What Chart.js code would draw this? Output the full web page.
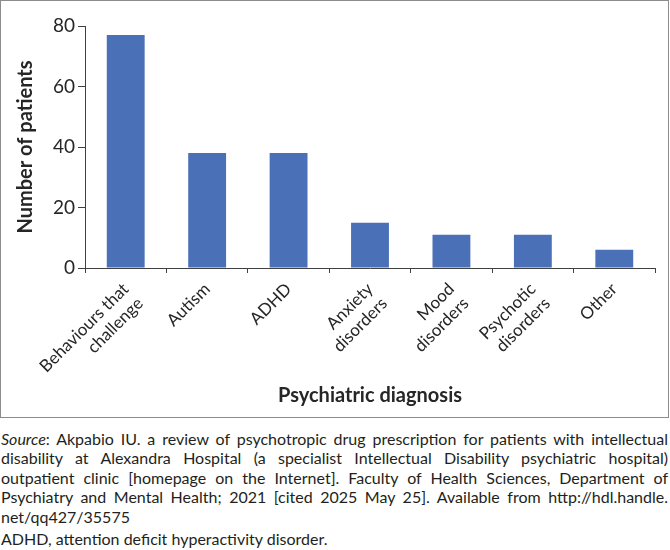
<!DOCTYPE html>
<html>
<head>
<meta charset="utf-8">
<script src="https://cdn.jsdelivr.net/npm/chart.js@4.4.1/dist/chart.umd.min.js"></script>
<style>
  body { margin: 0; background: #fff; font-family: Lato, sans-serif; color: #231f20; }
  #box { position: absolute; left: 0; top: 0; width: 667px; height: 416px; border: 1px solid #8c8c8c; }
  #chart { display: block; }
  #caption { position: absolute; left: 1px; top: 429px; width: 667px; font-size: 16px; line-height: 19.4px; }
  #caption .j { text-align: justify; text-align-last: justify; white-space: nowrap; }
  #caption .note { margin-top: 3px; }
</style>
</head>
<body>
<div id="box"><canvas id="chart" width="667" height="416"></canvas></div>
<div id="caption">
  <div class="j"><i>Source</i>: Akpabio IU. a review of psychotropic drug prescription for patients with intellectual</div>
  <div class="j">disability at Alexandra Hospital (a specialist Intellectual Disability psychiatric hospital)</div>
  <div class="j">outpatient clinic [homepage on the Internet]. Faculty of Health Sciences, Department of</div>
  <div class="j">Psychiatry and Mental Health; 2021 [cited 2025 May 25]. Available from http://hdl.handle.</div>
  <div>net/qq427/35575</div>
  <div class="note">ADHD, attention deficit hyperactivity disorder.</div>
</div>
<script>
// data
const diagnoses = [
  ['Behaviours that', 'challenge'],
  'Autism',
  'ADHD',
  ['Anxiety', 'disorders'],
  ['Mood', 'disorders'],
  ['Psychotic', 'disorders'],
  'Other'
];
const patientCounts = [77, 38, 38, 15, 11, 11, 6];
const yMin = 0;
const yMax = 80;
const yStep = 20;

const axisColor = '#404040';
const textColor = '#262626';

// squeeze a caption line a little if Lato runs wider than the original face
document.querySelectorAll('#caption .j').forEach((el) => {
  let ls = 0;
  while (el.scrollWidth > el.clientWidth && ls > -1) {
    ls -= 0.05;
    el.style.letterSpacing = ls + 'px';
  }
});

new Chart(document.getElementById('chart').getContext('2d'), {
  type: 'bar',
  data: {
    labels: diagnoses,
    datasets: [{
      data: patientCounts,
      backgroundColor: '#4a70b8',
      borderWidth: 0,
      barPercentage: 0.465,
      categoryPercentage: 1
    }]
  },
  options: {
    responsive: false,
    animation: false,
    devicePixelRatio: 1,
    layout: { padding: { top: 25, right: 13, bottom: 9, left: 0 } },
    plugins: {
      legend: { display: false },
      tooltip: { enabled: false }
    },
    scales: {
      x: {
        grid: { display: true, drawOnChartArea: false, offset: true, tickLength: 5, color: axisColor },
        border: { color: axisColor, width: 1 },
        ticks: {
          color: textColor,
          font: { family: 'Lato', size: 17 },
          minRotation: 45,
          maxRotation: 45,
          autoSkip: false,
          padding: 6
        },
        title: {
          display: true,
          text: 'Psychiatric diagnosis',
          color: textColor,
          font: { family: 'Lato', size: 20, weight: 'bold' },
          padding: { top: 4, bottom: 0 }
        },
        afterFit: (scale) => { scale.height = 140; }
      },
      y: {
        min: yMin,
        max: yMax,
        grid: { display: true, drawOnChartArea: false, tickLength: 7, color: axisColor },
        border: { color: axisColor, width: 1 },
        ticks: {
          stepSize: yStep,
          color: textColor,
          font: { family: 'Lato', size: 19 },
          padding: 3
        },
        title: {
          display: true,
          text: 'Number of patients',
          color: textColor,
          font: { family: 'Lato', size: 20, weight: 'bold' },
          padding: { top: 13, bottom: 0 }
        },
        afterFit: (scale) => { scale.width = 84; }
      }
    }
  }
});
</script>
</body>
</html>
